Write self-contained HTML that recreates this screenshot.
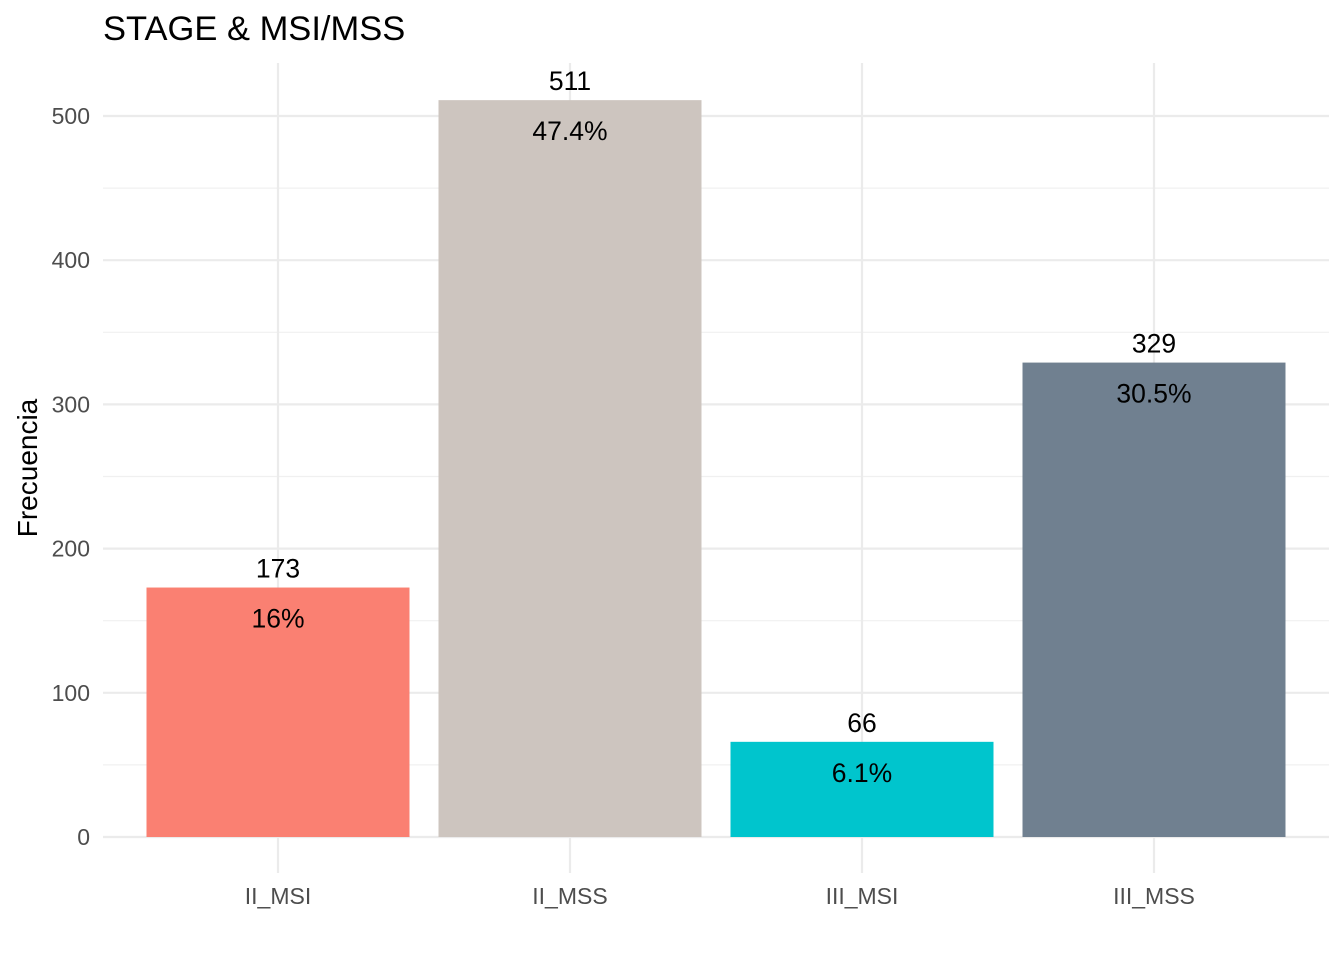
<!DOCTYPE html>
<html><head><meta charset="utf-8"><style>
body{margin:0;background:#fff;}
svg{display:block;font-family:"Liberation Sans",Arial,sans-serif;}
</style></head><body>
<svg id="chart" width="1344" height="960"></svg>
<script>
const categories=["II_MSI","II_MSS","III_MSI","III_MSS"];
const counts=[173,511,66,329];
const percents=["16%","47.4%","6.1%","30.5%"];
const colors=["#FA8072","#CDC5BF","#00C5CD","#708090"];
const yTicks=[0,100,200,300,400,500];
const yMinor=[50,150,250,350,450,550];
const NS="http://www.w3.org/2000/svg";
const svg=document.getElementById("chart");
const px0=103,px1=1329,pyTop=63,pyBot=873;
const y=v=>837-v*1.442;
function cx(i){return 278+292*i;}
function el(t,a,txt){const e=document.createElementNS(NS,t);for(const k in a)e.setAttribute(k,a[k]);if(txt!=null)e.textContent=txt;svg.appendChild(e);return e;}
yMinor.forEach(v=>{if(y(v)>pyTop){const l=el("line",{x1:px0,x2:px1,y1:y(v),y2:y(v),stroke:"#f0f0f0","stroke-width":1.2});

}});
yTicks.forEach(v=>{const l=el("line",{x1:px0,x2:px1,y1:y(v),y2:y(v),stroke:"#ebebeb","stroke-width":2.2});


const t=el("text",{x:90,y:y(v)+8,"text-anchor":"end","font-size":23,fill:"#4d4d4d"},v);

});
categories.forEach((c,i)=>{const x=cx(i);
const g=el("line",{x1:x,x2:x,y1:pyTop,y2:pyBot,stroke:"#ebebeb","stroke-width":2.2});

});
categories.forEach((c,i)=>{const x=cx(i);
const r=el("rect",{x:x-131.5,y:y(counts[i]),width:263,height:y(0)-y(counts[i]),fill:colors[i]});


const a=el("text",{x:x,y:y(counts[i])-10,"text-anchor":"middle","font-size":26.5,fill:"#000"},counts[i]);


const b=el("text",{x:x,y:y(counts[i])+40,"text-anchor":"middle","font-size":26.5,fill:"#000"},percents[i]);


const t=el("text",{x:x,y:904,"text-anchor":"middle","font-size":23,fill:"#4d4d4d"},c);

});
const ti=el("text",{x:103,y:40,"font-size":34.5,fill:"#000"},"STAGE & MSI/MSS");


const yl=el("text",{x:0,y:0,"font-size":28,fill:"#000","text-anchor":"middle",transform:"translate(37,468) rotate(-90)"},"Frecuencia");


</script>
</body></html>
